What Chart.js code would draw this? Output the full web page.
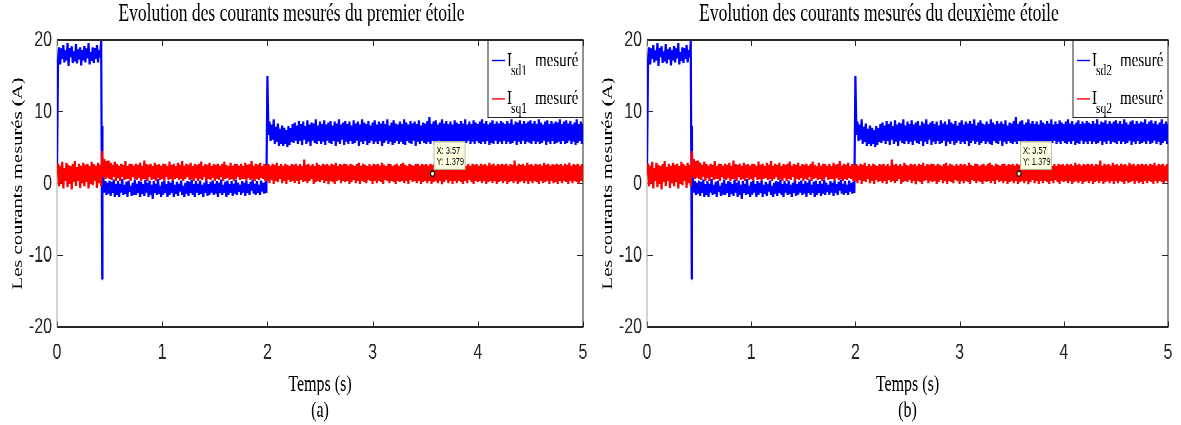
<!DOCTYPE html>
<html>
<head>
<meta charset="utf-8">
<script src="https://cdn.jsdelivr.net/npm/chart.js@4.4.1/dist/chart.umd.min.js"></script>
<style>
html, body { margin: 0; padding: 0; background: #fff; overflow: hidden; }
#fig { position: absolute; left: 0; top: 0; width: 1181px; height: 308px; transform: scaleY(1.38); transform-origin: 0 0; }
#fig canvas { position: absolute; top: 0; }
#c1 { left: 0; }
#c2 { left: 590px; }
</style>
</head>
<body>
<div id="fig">
  <canvas id="c1" width="590" height="308"></canvas>
  <canvas id="c2" width="591" height="308"></canvas>
</div>
<script>
// sample step of the measured signals (s)
var dt = 0.01;
var xTicks = [0, 1, 2, 3, 4, 5];
var yTicks = [-20, -10, 0, 10, 20];

var isd = [
  2.0, 17.1, 19.0, 16.6, 18.8, 17.4, 19.3, 16.9, 18.5, 17.2, 19.6, 16.4, 18.9, 17.6, 19.1, 16.8, 18.4, 17.0, 19.4, 16.7, 18.7, 17.3, 19.0, 16.5, 18.6,
  17.2, 19.2, 16.9, 18.8, 17.5, 19.5, 16.6, 18.3, 17.1, 19.0, 16.8, 18.9, 17.4, 19.3, 16.9, 18.6, 17.6, 19.8, -13.3, 0.8, -1.2, 0.3, -1.6, 0.1, -1.4,
  0.4, -1.7, 0.2, -1.3, 0.5, -1.8, -0.1, -1.5, 0.3, -1.9, 0.0, -1.2, 0.6, -1.6, -0.2, -1.4, 0.2, -1.8, 0.4, -1.1, -0.3, -1.7, 0.1, -1.5, 0.5,
  -1.6, 0.0, -1.3, 0.3, -1.9, 0.2, -1.4, -0.1, -1.7, 0.5, -1.2, 0.1, -1.8, 0.4, -1.5, -0.2, -2.1, 0.3, -1.3, 0.0, -1.6, 0.6, -1.4, -0.3, -1.8,
  0.2, -1.5, 0.4, -1.2, -0.1, -1.9, 0.3, -1.6, 0.1, -1.3, 0.5, -1.8, -0.2, -1.4, 0.2, -1.7, 0.0, -1.1, 0.4, -1.6, -0.3, -1.9, 0.1, -1.4, 0.3,
  -1.7, 0.2, -1.3, 0.5, -1.5, -0.1, -1.8, 0.3, -1.2, 0.0, -1.6, 0.4, -1.4, -0.2, -1.9, 0.1, -1.3, 0.6, -1.7, -0.1, -1.5, 0.2, -1.2, 0.4, -1.6,
  0.0, -1.4, 0.3, -1.8, 0.1, -1.3, 0.5, -1.6, -0.2, -1.2, 0.2, -1.9, 0.4, -1.5, -0.1, -1.3, 0.3, -1.7, 0.0, -1.4, 0.5, -1.6, 0.1, -1.1, -0.2,
  -1.5, 0.3, -1.2, 0.1, -1.7, 0.4, -1.3, -0.1, -1.6, 0.2, -1.0, 0.5, -1.4, 0.0, -1.5, 0.3, -1.2, -0.2, -1.6, 0.4, -1.1, 0.1, -1.4, 0.2, -1.3,
  15.0, 6.8, 8.6, 5.9, 8.2, 6.1, 8.9, 5.6, 7.9, 5.8, 8.4, 5.3, 7.6, 5.5, 8.1, 5.2, 7.8, 5.6, 7.4, 5.1, 8.0, 5.4, 7.7, 5.8, 8.3,
  5.7, 8.5, 6.0, 8.1, 5.5, 8.7, 5.9, 8.3, 5.4, 8.6, 6.1, 8.0, 5.6, 8.8, 5.8, 8.2, 5.3, 8.5, 6.0, 8.4, 5.7, 8.9, 5.5, 8.1, 5.9,
  8.6, 5.6, 8.3, 5.8, 8.8, 5.4, 8.2, 6.0, 8.5, 5.7, 8.7, 5.5, 8.1, 5.9, 8.6, 5.3, 8.4, 5.8, 8.9, 5.6, 8.2, 6.1, 8.5, 5.4, 8.7,
  5.8, 8.3, 5.6, 8.6, 5.9, 8.1, 5.5, 8.8, 5.7, 8.4, 6.0, 8.6, 5.3, 8.2, 5.8, 8.9, 5.6, 8.5, 5.9, 8.3, 5.4, 8.7, 5.7, 8.1, 6.0,
  8.5, 5.6, 8.8, 5.8, 8.2, 5.5, 8.6, 5.9, 8.4, 5.3, 8.7, 5.7, 8.3, 6.0, 8.9, 5.6, 8.1, 5.8, 8.5, 5.4, 8.8, 5.7, 8.4, 5.9, 8.2,
  5.5, 8.6, 5.8, 8.3, 5.6, 8.9, 5.4, 8.5, 5.9, 8.2, 5.7, 8.7, 5.5, 8.4, 6.0, 8.6, 5.3, 8.3, 5.8, 8.8, 5.6, 8.1, 5.9, 8.5, 5.7,
  8.4, 5.6, 8.7, 5.8, 9.3, 5.5, 8.3, 5.9, 8.6, 5.4, 8.8, 5.7, 8.2, 6.0, 8.5, 5.6, 8.9, 5.8, 8.4, 5.5, 8.7, 5.9, 8.3, 5.6, 8.6,
  5.8, 8.2, 5.5, 8.8, 5.7, 8.5, 5.9, 8.3, 5.4, 8.7, 5.8, 8.4, 5.6, 8.9, 5.7, 8.2, 6.0, 8.6, 5.5, 8.3, 5.8, 8.8, 5.6, 8.5, 5.9,
  8.3, 5.7, 8.6, 5.5, 8.9, 5.8, 8.4, 5.6, 8.7, 5.9, 8.2, 5.4, 8.5, 5.7, 8.8, 5.6, 8.3, 6.0, 8.6, 5.5, 8.4, 5.8, 8.7, 5.6, 8.5,
  5.9, 8.3, 5.6, 8.7, 5.8, 8.4, 5.5, 8.9, 5.7, 8.2, 5.9, 8.6, 5.4, 8.5, 5.8, 8.8, 5.6, 8.3, 6.0, 8.7, 5.5, 8.4, 5.8, 8.6, 5.7,
  8.8, 5.6, 8.4, 5.9, 8.7, 5.5, 8.3, 5.8, 8.9, 5.6, 8.5, 5.7, 8.2, 6.0, 8.6, 5.4, 8.8, 5.8, 8.3, 5.6, 8.7, 5.9, 8.4, 5.5, 8.6,
  5.7, 8.5, 5.8, 8.9, 5.6, 8.3, 5.9, 8.6, 5.5, 8.8, 5.7, 8.4, 6.0, 8.7, 5.6, 8.2, 5.8, 8.5, 5.4, 8.9, 5.7, 8.3, 5.9, 8.6, 5.6,
  8.4
];
// short transient on I_sd right after the switch at 0.43 s: [t, value]
var isdSpike = [[0.431, 8.0], [0.433, -0.5]];

// I_sq measured, same time grid
var isq = [
  1.2, 2.8, -0.4, 2.5, 0.1, 3.0, -0.7, 2.2, 0.3, 2.9, -0.5, 2.6, 0.0, 2.4, -0.8, 2.7, 0.2, 3.1, -0.3, 2.3, 0.4, 2.8, -0.6, 2.5, 0.1,
  2.9, -0.4, 2.6, 0.2, 2.8, -0.7, 2.4, 0.0, 3.0, -0.2, 2.7, 0.3, 2.5, -0.6, 2.9, 0.1, 2.6, -0.3, 4.5, 0.9, 3.4, 0.6, 3.1, 0.8, 3.2,
  0.7, 2.9, 0.5, 2.6, 1.0, 3.0, 0.4, 2.7, 0.8, 2.5, 0.3, 2.8, 0.9, 2.6, 0.5, 3.1, 0.7, 2.4, 0.6, 2.8, 0.4, 2.7, 1.0, 2.5, 0.6,
  2.8, 0.5, 2.6, 0.8, 2.9, 0.3, 2.5, 0.7, 3.2, 0.6, 2.7, 0.4, 2.6, 0.9, 2.8, 0.5, 2.4, 0.7, 2.9, 0.3, 2.6, 0.8, 2.7, 0.5, 2.5,
  0.6, 2.8, 0.4, 2.7, 0.9, 2.5, 0.5, 3.0, 0.7, 2.6, 0.3, 2.8, 0.6, 2.4, 0.8, 2.9, 0.5, 2.6, 0.7, 3.1, 0.4, 2.5, 0.6, 2.8, 0.9,
  2.6, 0.5, 2.9, 0.7, 2.4, 0.4, 2.7, 0.8, 2.6, 0.3, 2.8, 0.6, 3.0, 0.5, 2.5, 0.9, 2.7, 0.4, 2.6, 0.7, 2.9, 0.5, 2.4, 0.8, 2.7,
  0.4, 2.6, 0.7, 2.8, 0.5, 2.5, 0.9, 2.7, 0.3, 3.0, 0.6, 2.6, 0.8, 2.4, 0.5, 2.9, 0.7, 2.5, 0.4, 2.8, 0.6, 2.7, 0.9, 2.5, 0.5,
  2.8, 0.6, 2.4, 0.7, 2.9, 0.4, 2.6, 0.8, 2.7, 0.5, 3.1, 0.6, 2.5, 0.3, 2.8, 0.7, 2.6, 0.5, 2.9, 0.8, 2.4, 0.6, 2.7, 0.4, 2.6,
  0.3, 2.7, 0.1, 2.5, 0.5, 2.8, 0.0, 2.6, 0.4, 2.9, 0.2, 2.4, 0.6, 2.7, 0.1, 2.5, 0.3, 2.8, 0.0, 2.6, 0.5, 2.4, 0.2, 2.7, 0.4,
  2.6, 0.1, 2.8, 0.3, 2.5, 0.0, 2.7, 0.5, 2.4, 0.2, 3.3, 0.4, 2.6, 0.1, 2.8, 0.3, 2.5, 0.6, 2.7, 0.0, 2.4, 0.2, 2.9, 0.4, 2.6,
  0.2, 2.5, 0.5, 2.8, 0.1, 2.6, 0.3, 2.7, -0.1, 2.5, 0.4, 2.8, 0.2, 2.6, 0.0, 2.9, 0.3, 2.4, 0.5, 2.7, 0.1, 2.6, 0.3, 2.8, 0.2,
  2.7, 0.4, 2.5, 0.0, 2.8, 0.2, 2.6, 0.5, 2.4, 0.1, 2.7, 0.3, 2.9, 0.0, 2.5, 0.4, 2.8, 0.2, 2.6, 0.1, 2.4, 0.5, 2.7, 0.3, 2.5,
  0.0, 2.8, 0.3, 2.6, 0.1, 2.7, 0.4, 2.5, 0.2, 2.9, 0.0, 2.6, 0.5, 2.4, 0.3, 2.8, 0.1, 2.7, 0.4, 2.5, 0.2, 2.6, 0.0, 2.8, 0.3,
  2.5, 0.2, 2.7, 0.4, 2.9, 0.1, 2.6, 0.3, 2.4, 0.0, 2.8, 0.5, 2.6, 0.2, 2.5, 0.3, 2.7, 0.1, 2.8, 0.4, 2.5, 0.0, 2.7, 0.2, 2.6,
  0.4, 2.7, 0.1, 2.5, 0.3, 2.8, 0.0, 2.6, 0.2, 2.9, 0.4, 2.5, 0.1, 2.7, 0.3, 2.6, -0.1, 2.8, 0.2, 2.4, 0.5, 2.7, 0.1, 2.6, 0.3,
  2.8, 0.0, 2.6, 0.3, 2.5, 0.1, 2.7, 0.4, 2.9, 0.2, 2.6, 0.0, 2.8, 0.3, 2.5, 0.1, 2.7, 0.5, 2.4, 0.2, 2.8, 0.0, 2.6, 0.4, 2.7,
  0.2, 2.5, 0.4, 2.8, 0.1, 2.6, 0.3, 2.7, 0.0, 2.5, 0.2, 2.9, 0.4, 2.6, 0.1, 2.8, 0.3, 2.5, 0.0, 2.7, 0.2, 2.6, 0.4, 2.8, 0.1,
  2.6, 0.3, 2.8, 0.0, 2.5, 0.2, 2.7, 0.4, 2.6, 0.1, 3.2, 0.3, 2.5, 0.0, 2.8, 0.2, 2.6, 0.4, 2.7, 0.1, 2.5, 0.3, 2.9, 0.0, 2.6,
  0.3, 2.7, 0.1, 2.5, 0.4, 2.8, 0.2, 2.6, 0.0, 2.7, 0.3, 2.5, 0.1, 2.9, 0.2, 2.6, 0.4, 2.8, 0.0, 2.5, 0.3, 2.7, 0.1, 2.6, 0.2,
  2.8, 0.0, 2.6, 0.3, 2.7, 0.1, 2.5, 0.4, 2.8, 0.2, 2.6, 0.0, 2.9, 0.3, 2.5, 0.1, 2.7, 0.4, 2.6, 0.2, 2.8, 0.0, 2.5, 0.3, 2.7,
  0.2
];

// data cursor shown on the plot
var tipPoint = [3.57, 1.379];

var serif = '"Liberation Serif", "Times New Roman", serif';
var sans = '"Liberation Sans Narrow", "Liberation Sans", Arial, sans-serif';

function toPoints(values, extra) {
  var pts = values.map(function(v, i) { return { x: +(i * dt).toFixed(3), y: v }; });
  (extra || []).forEach(function(p) { pts.push({ x: p[0], y: p[1] }); });
  pts.sort(function(a, b) { return a.x - b.x; });
  return pts;
}

// box, inward ticks, legend and data tip the way MATLAB draws them
var framePlugin = {
  id: 'matlabFrame',
  beforeDraw: function(chart) {
    var ctx = chart.ctx;
    ctx.save();
    ctx.fillStyle = '#fff';
    ctx.fillRect(0, 0, chart.width, chart.height);
    ctx.restore();
  },
  beforeDatasetsDraw: function(chart) {
    var a = chart.chartArea, ctx = chart.ctx;
    var xs = chart.scales.x, ys = chart.scales.y;
    ctx.save();
    ctx.lineWidth = 1;
    ctx.strokeStyle = '#262626';
    ctx.beginPath();
    xTicks.forEach(function(v) {
      var p = Math.round(xs.getPixelForValue(v)) + 0.5;
      ctx.moveTo(p, a.bottom); ctx.lineTo(p, a.bottom - 4.3);
      ctx.moveTo(p, a.top); ctx.lineTo(p, a.top + 4.3);
    });
    yTicks.forEach(function(v) {
      var p = ys.getPixelForValue(v);
      ctx.moveTo(a.left, p); ctx.lineTo(a.left + 6, p);
      ctx.moveTo(a.right, p); ctx.lineTo(a.right - 6, p);
    });
    ctx.stroke();
    ctx.beginPath();
    ctx.moveTo(a.left, a.top); ctx.lineTo(a.right, a.top);
    ctx.lineTo(a.right, a.bottom); ctx.lineTo(a.left, a.bottom);
    ctx.stroke();
    ctx.strokeStyle = '#a8a8a8';
    ctx.beginPath();
    ctx.moveTo(a.left, a.top); ctx.lineTo(a.left, a.bottom);
    ctx.stroke();
    ctx.restore();
  },
  afterDraw: function(chart, args, opts) {
    var a = chart.chartArea, ctx = chart.ctx;
    var xs = chart.scales.x, ys = chart.scales.y;
    ctx.save();
    // legend
    var lx = a.right - 95, ly = a.top, lw = 95, lh = 56;
    ctx.fillStyle = '#fff';
    ctx.fillRect(lx, ly, lw, lh);
    ctx.strokeStyle = '#262626';
    ctx.lineWidth = 1;
    ctx.strokeRect(lx, ly, lw, lh);
    [['#0000ff', opts.labels[0]], ['#ff0000', opts.labels[1]]].forEach(function(e, k) {
      var cy = ly + 15 + k * 27.7;
      ctx.strokeStyle = e[0];
      ctx.lineWidth = 1.2;
      ctx.beginPath(); ctx.moveTo(lx + 4, cy); ctx.lineTo(lx + 17, cy); ctx.stroke();
      ctx.fillStyle = '#000';
      ctx.textBaseline = 'middle';
      ctx.textAlign = 'left';
      ctx.font = '15px ' + serif;
      ctx.fillText('I', lx + 19, cy);
      ctx.fillText('mesuré', lx + 47, cy);
      ctx.font = '11.5px ' + serif;
      ctx.fillText(e[1], lx + 23, cy + 7.5);
    });
    // data tip
    var px = xs.getPixelForValue(tipPoint[0]), py = ys.getPixelForValue(tipPoint[1]);
    var bx = px + 1.5, by = py - 23, bw = 31, bh = 20;
    ctx.fillStyle = '#ffffe1';
    ctx.fillRect(bx, by, bw, bh);
    ctx.strokeStyle = '#b4b4a0';
    ctx.lineWidth = 0.8;
    ctx.strokeRect(bx, by, bw, bh);
    ctx.fillStyle = '#000';
    ctx.font = '7.5px ' + sans;
    ctx.textBaseline = 'middle';
    ctx.fillText('X: ' + tipPoint[0], bx + 2.5, by + 6.5);
    ctx.fillText('Y: ' + tipPoint[1], bx + 2.5, by + 14.5);
    ctx.beginPath();
    ctx.arc(px, py, 2, 0, Math.PI * 2);
    ctx.fillStyle = '#f0f0d0';
    ctx.fill();
    ctx.strokeStyle = '#000';
    ctx.lineWidth = 1;
    ctx.stroke();
    ctx.restore();
  }
};

function makeChart(id, title, caption, labels, padRight) {
  return new Chart(document.getElementById(id), {
    type: 'line',
    data: {
      datasets: [
        { data: toPoints(isd, isdSpike), borderColor: '#0000ff', borderWidth: 2.2, borderJoinStyle: 'bevel', pointRadius: 0, order: 2 },
        { data: toPoints(isq), borderColor: '#ff0000', borderWidth: 2.2, borderJoinStyle: 'bevel', pointRadius: 0, order: 1 }
      ]
    },
    options: {
      responsive: false,
      devicePixelRatio: 2,
      animation: false,
      events: [],
      layout: { padding: { left: 0, right: padRight, top: 0, bottom: 0 } },
      plugins: {
        legend: { display: false },
        tooltip: { enabled: false },
        title: {
          display: true,
          text: title,
          color: '#000',
          font: { family: serif, size: 17.5, weight: 'normal', lineHeight: 1.2 },
          padding: { top: 0, bottom: 8 }
        },
        matlabFrame: { labels: labels }
      },
      scales: {
        x: {
          type: 'linear',
          min: 0, max: 5,
          afterFit: function(s) { s.height = 71; s.paddingLeft = 0; s.paddingRight = 0; },
          afterBuildTicks: function(s) { s.ticks = xTicks.map(function(v) { return { value: v }; }); },
          grid: { display: false, drawTicks: false },
          border: { display: false },
          ticks: { color: '#262626', padding: 9, maxRotation: 0, font: { family: sans, size: 16 } },
          title: {
            display: true,
            text: ['Temps (s)', caption],
            color: '#000',
            font: { family: serif, size: 16, lineHeight: 1.2 },
            padding: { top: 0, bottom: 0.5 }
          }
        },
        y: {
          min: -20, max: 20,
          afterFit: function(s) { s.width = 57; s.paddingTop = 0; s.paddingBottom = 0; },
          afterBuildTicks: function(s) { s.ticks = yTicks.map(function(v) { return { value: v }; }); },
          grid: { display: false, drawTicks: false },
          border: { display: false },
          ticks: { color: '#262626', padding: 5, font: { family: sans, size: 16 } },
          title: {
            display: true,
            text: 'Les courants mesurés (A)',
            color: '#000',
            font: { family: serif, size: 15, lineHeight: 1.2 },
            padding: { top: 9, bottom: 0 }
          }
        }
      }
    },
    plugins: [framePlugin]
  });
}

makeChart('c1', 'Evolution des courants mesurés du premier étoile', '(a)', ['sd1', 'sq1'], 7);
makeChart('c2', 'Evolution des courants mesurés du deuxième étoile', '(b)', ['sd2', 'sq2'], 13);
</script>
</body>
</html>
